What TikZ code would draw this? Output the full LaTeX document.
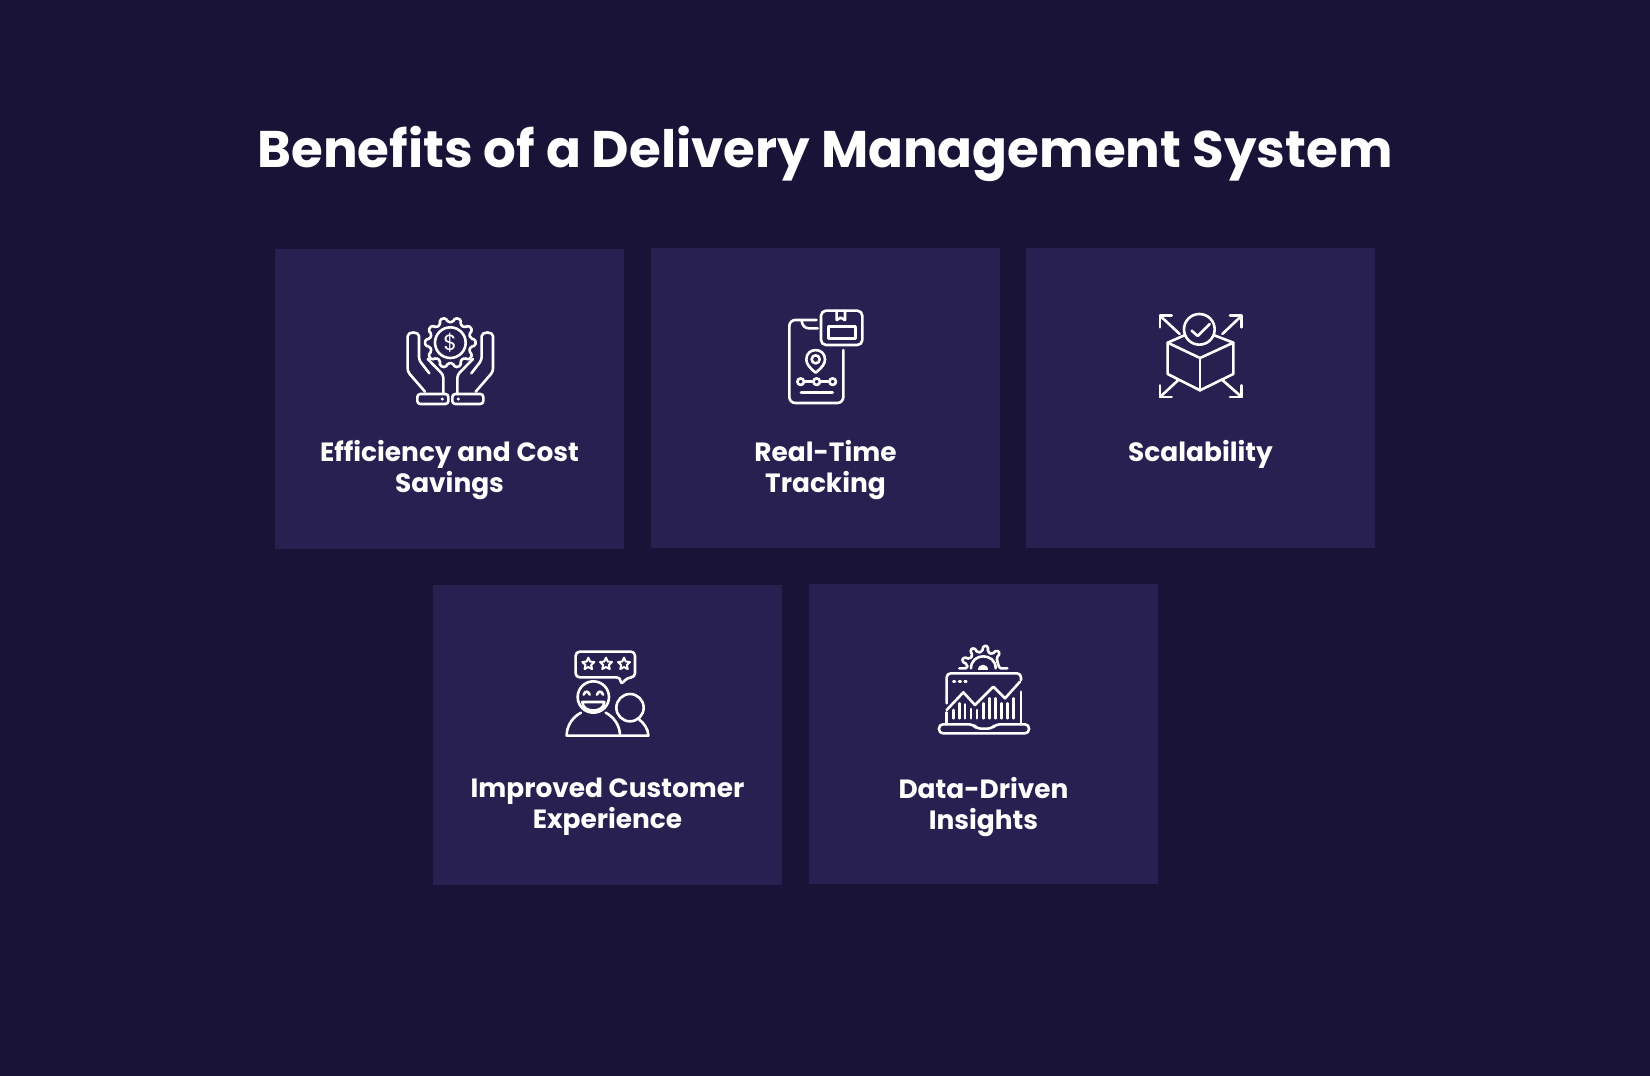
\documentclass[tikz,border=0pt]{standalone}
\usepackage{fontspec}
\setmainfont{Poppins}
\definecolor{pagedark}{HTML}{191338}
\definecolor{cardpurple}{HTML}{272050}
\tikzset{
	card/.style={fill=cardpurple, minimum width=174.5pt, minimum height=150pt, inner sep=0pt},
	cardtext/.style={text=white, align=center, font=\fontsize{13.2}{15.5}\selectfont\bfseries, inner sep=0pt},
	icon/.style={draw=white, line width=1.3pt, line join=round, line cap=round},
	zoomed/.style={x=0.16667pt, y=-0.16667pt}
}
\begin{document}
\begin{tikzpicture}[x=0.5pt, y=-0.5pt]
	\useasboundingbox (0,0) rectangle (1650,1076);
	\fill[pagedark] (0,0) rectangle (1650,1076);
	\node[text=white, inner sep=0pt, font=\fontsize{25.75}{30}\selectfont\bfseries] (title) at (825,154) {Benefits of a Delivery Management System};
	% cards
	\node[card] (efficiency) at (449.5,399) {};
	\node[card] (tracking) at (825.5,398) {};
	\node[card] (scalability) at (1200.5,398) {};
	\node[card] (experience) at (607.5,735) {};
	\node[card] (insights) at (983.5,734) {};
	\node[cardtext] (efficiencytext) at (449.5,470) {Efficiency and Cost\\Savings};
	\node[cardtext] (trackingtext) at (825.5,470) {Real-Time\\Tracking};
	\node[cardtext] (scalabilitytext) at (1200.5,454) {Scalability};
	\node[cardtext] (experiencetext) at (607.5,807) {Improved Customer\\Experience};
	\node[cardtext] (insightstext) at (983.5,807) {Data-Driven\\Insights};
	% hands
	\begin{scope}[shift={(380,290)}, zoomed]
		\draw[icon] (211,158) circle (46);
		\draw[icon, rounded corners=0.8pt, shift={(211,158)}] (-11:62) \foreach \a in {0,36,...,324} { -- (\a-11:62) -- (\a-7:76) -- (\a+7:76) -- (\a+11:62)} -- cycle;
		\node[text=white, inner sep=0pt, font=\fontsize{11}{11}\selectfont] (dollar) at (211,158) {\$};
		\foreach \m/\s in {0/1, 422/-1} {
			\begin{scope}[shift={(\m,0)}, xscale=\s]
				\draw[icon, rounded corners=1.5pt] (135,305) -- (83,245) -- (83,147) .. controls (83,124) and (117,124) .. (117,147) -- (117,210) -- (148,250);
				\draw[icon, rounded corners=1.5pt] (143,207) -- (190,255) -- (190,310);
				\draw[icon, rounded corners=1.5pt] (112,312) rectangle (205,342);
				\fill[white] (187,327) circle (5);
			\end{scope}
		}
	\end{scope}
	% phone
	\begin{scope}[shift={(765,295)}, zoomed]
		\draw[icon, rounded corners=3pt] (155,75) -- (73,75) -- (73,324) -- (235,324) -- (235,165);
		\draw[icon] (110,78) .. controls (112,92) and (120,100) .. (132,100) -- (158,100);
		\draw[icon, rounded corners=2.5pt] (168,47) rectangle (292,150);
		\draw[icon] (215,47) -- (215,75) -- (227,68) -- (240,75) -- (240,47);
		\draw[icon] (190,95) rectangle (272,130);
		\draw[icon] (152,193) circle (12);
		\draw[icon] (152,233) .. controls (130,216) and (124,204) .. (124,193) .. controls (124,156) and (180,156) .. (180,193) .. controls (180,204) and (174,216) .. (152,233) -- cycle;
		\node[icon, circle, minimum size=3.3pt, inner sep=0pt] (stopa) at (107,260) {};
		\node[icon, circle, minimum size=3.3pt, inner sep=0pt] (stopb) at (155,260) {};
		\node[icon, circle, minimum size=3.3pt, inner sep=0pt] (stopc) at (203,260) {};
		\draw[icon] (stopa) -- (stopb);
		\draw[icon] (stopb) -- (stopc);
		\draw[icon] (108,293) -- (203,293);
	\end{scope}
	% box
	\begin{scope}[shift={(1145,300)}, zoomed]
		\draw[icon] (163,88) circle (46);
		\draw[icon] (140,92) -- (158,108) -- (194,72);
		\draw[icon] (118,106) -- (68,128) -- (68,222) -- (165,271) -- (265,222) -- (265,128) -- (208,106);
		\draw[icon] (68,128) -- (165,174) -- (265,128);
		\draw[icon] (165,174) -- (165,271);
		\draw[icon] (45,82) -- (45,47) -- (80,47);
		\draw[icon] (45,47) -- (104,102);
		\draw[icon] (255,47) -- (290,47) -- (290,82);
		\draw[icon] (290,47) -- (232,102);
		\draw[icon] (45,256) -- (45,291) -- (80,291);
		\draw[icon] (45,291) -- (100,240);
		\draw[icon] (255,291) -- (290,291) -- (290,256);
		\draw[icon] (290,291) -- (232,240);
	\end{scope}
	% customers
	\begin{scope}[shift={(555,640)}, zoomed]
		\draw[icon, rounded corners=2pt] (197,112) -- (62,112) -- (62,35) -- (240,35) -- (240,112) -- (218,112) -- (197,135) -- cycle;
		\foreach \c in {100,153,207} {
			\draw[icon, line width=1pt, shift={(\c,72)}, yscale=-1] (90:19) -- (126:9) -- (162:19) -- (198:9) -- (234:19) -- (270:9) -- (306:19) -- (342:9) -- (18:19) -- (54:9) -- cycle;
		}
		\draw[icon] (115,171) circle (47);
		\draw[icon] (86,164) .. controls (90,152) and (100,152) .. (104,164);
		\draw[icon] (126,164) .. controls (130,152) and (140,152) .. (144,164);
		\draw[icon] (82,186) -- (148,186) .. controls (148,220) and (82,220) .. (82,186) -- cycle;
		\draw[icon] (78,218) .. controls (55,230) and (35,255) .. (35,287) -- (195,287) .. controls (195,255) and (175,230) .. (152,218);
		\draw[icon] (225,203) circle (41);
		\draw[icon] (196,287) -- (280,287) .. controls (280,266) and (265,248) .. (252,238);
	\end{scope}
	% laptop
	\begin{scope}[shift={(925,635)}, zoomed]
		\draw[icon, rounded corners=0.8pt, shift={(175,100)}, yscale=-1] (180:72) -- (180:48) \foreach \a in {156,120,...,24} { -- (\a+10:50) -- (\a+6:68) -- (\a-6:68) -- (\a-10:50)} -- (0:48) -- (0:72);
		\draw[icon] (138,100) .. controls (138,52) and (212,52) .. (212,100);
		\fill[white] (160,104) .. controls (160,84) and (190,84) .. (190,104) -- cycle;
		\draw[icon, rounded corners=2pt] (65,205) -- (65,115) -- (288,115) -- (288,135);
		\draw[icon] (288,170) -- (288,268);
		\draw[icon] (65,232) -- (65,268);
		\draw[icon] (85,140) -- (90,140);
		\draw[icon] (102,140) -- (107,140);
		\draw[icon] (119,140) -- (124,140);
		\draw[icon] (65,225) -- (115,172) -- (150,210) -- (205,155) -- (240,190) -- (285,140);
		\foreach \c/\t in {85/225, 103/205, 120/208, 138/222, 156/225, 175/205, 193/190, 211/190, 229/205, 247/205, 265/190} {
			\draw[icon] (\c,\t) -- (\c,250);
		}
		\draw[icon, rounded corners=2pt] (145,268) -- (42,268) -- (42,295) -- (312,295) -- (312,268) -- (212,268) -- (200,281) -- (155,281) -- cycle;
	\end{scope}
\end{tikzpicture}
\end{document}
